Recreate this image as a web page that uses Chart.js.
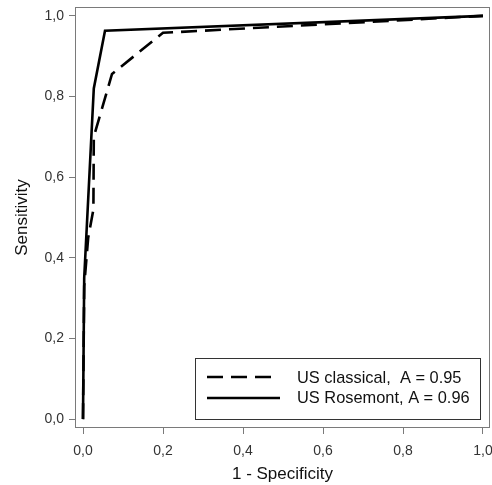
<!DOCTYPE html>
<html>
<head>
<meta charset="utf-8">
<script src="https://cdn.jsdelivr.net/npm/chart.js@4/dist/chart.umd.min.js"></script>
<style>
    body { margin: 0; background: #fff; }
    canvas { display: block; }
</style>
</head>
<body>
<canvas id="roc" width="492" height="485"></canvas>
<script>
// ROC curves
const rosemontX = [0, 0.003, 0.027, 0.055, 1];
const rosemontY = [0, 0.35, 0.82, 0.963, 1];
const classicalX = [0, 0.003, 0.013, 0.026, 0.027, 0.0725, 0.2, 1];
const classicalY = [0, 0.33, 0.45, 0.52, 0.70, 0.856, 0.958, 1];
const tickValues = [0, 0.2, 0.4, 0.6, 0.8, 1.0];
const legendLabels = ["US classical,  A = 0.95", "US Rosemont, A = 0.96"];

const FONT = "'Liberation Sans', Arial, sans-serif";
const FRAME = "#7a7a7a";

function toPoints(xs, ys) {
    return xs.map((x, i) => ({ x, y: ys[i] }));
}

function fmt(v) {
    return v.toFixed(1).replace(".", ",");
}

// box around the plot area plus the legend in the lower right corner
const frameAndLegend = {
    id: "frameAndLegend",
    afterDatasetsDraw(chart) {
        const { ctx, chartArea: a } = chart;
        ctx.save();
        ctx.strokeStyle = FRAME;
        ctx.lineWidth = 1;
        ctx.strokeRect(a.left + 0.5, a.top + 0.5, a.right - a.left - 1, a.bottom - a.top - 1);

        const bx = a.left + 120, by = a.top + 351;
        const bw = a.right - 10 - bx, bh = a.bottom - 9 - by;
        ctx.fillStyle = "#fff";
        ctx.fillRect(bx, by, bw, bh);
        ctx.strokeStyle = "#333";
        ctx.strokeRect(bx + 0.5, by + 0.5, bw, bh);

        ctx.strokeStyle = "#000";
        ctx.lineWidth = 2.6;
        ctx.setLineDash([16, 8]);
        ctx.beginPath();
        ctx.moveTo(bx + 12, by + 19);
        ctx.lineTo(bx + 77, by + 19);
        ctx.stroke();
        ctx.setLineDash([]);
        ctx.beginPath();
        ctx.moveTo(bx + 12, by + 40);
        ctx.lineTo(bx + 85, by + 40);
        ctx.stroke();

        ctx.fillStyle = "#111";
        ctx.font = "16.4px " + FONT;
        ctx.textBaseline = "alphabetic";
        ctx.fillText(legendLabels[0], bx + 102, by + 25);
        ctx.fillText(legendLabels[1], bx + 102, by + 45);
        ctx.restore();
    }
};

new Chart(document.getElementById("roc"), {
    type: "scatter",
    data: {
        datasets: [
            {
                label: legendLabels[0],
                data: toPoints(classicalX, classicalY),
                showLine: true,
                borderColor: "#000",
                borderWidth: 2.6,
                borderDash: [16, 8],
                pointRadius: 0,
                tension: 0
            },
            {
                label: legendLabels[1],
                data: toPoints(rosemontX, rosemontY),
                showLine: true,
                borderColor: "#000",
                borderWidth: 2.6,
                pointRadius: 0,
                tension: 0
            }
        ]
    },
    options: {
        responsive: false,
        devicePixelRatio: 1,
        animation: false,
        layout: { padding: { top: 7, right: 2, left: 0, bottom: 0 } },
        plugins: {
            legend: { display: false },
            tooltip: { enabled: false }
        },
        scales: {
            x: {
                type: "linear",
                min: -0.02,
                max: 1.0175,
                afterBuildTicks: s => { s.ticks = tickValues.map(v => ({ value: v })); },
                afterFit: s => { s.height = 57; s.paddingLeft = 0; s.paddingRight = 0; },
                border: { display: false },
                grid: { drawOnChartArea: false, tickLength: 6, color: FRAME },
                ticks: {
                    callback: v => fmt(v),
                    font: { family: FONT, size: 14 },
                    color: "#333",
                    padding: 9,
                    maxRotation: 0
                },
                title: {
                    display: true,
                    text: "1 - Specificity",
                    font: { family: FONT, size: 17 },
                    color: "#111",
                    padding: { top: 0, bottom: 0 }
                }
            },
            y: {
                type: "linear",
                min: -0.022,
                max: 1.022,
                afterBuildTicks: s => { s.ticks = tickValues.map(v => ({ value: v })); },
                afterFit: s => { s.width = 75; s.paddingTop = 0; s.paddingBottom = 0; },
                border: { display: false },
                grid: { drawOnChartArea: false, tickLength: 6, color: FRAME },
                ticks: {
                    callback: v => fmt(v),
                    font: { family: FONT, size: 14 },
                    color: "#333",
                    padding: 5
                },
                title: {
                    display: true,
                    text: "Sensitivity",
                    font: { family: FONT, size: 17 },
                    color: "#111",
                    padding: { top: 12, bottom: 0 }
                }
            }
        }
    },
    plugins: [frameAndLegend]
});
</script>
</body>
</html>
